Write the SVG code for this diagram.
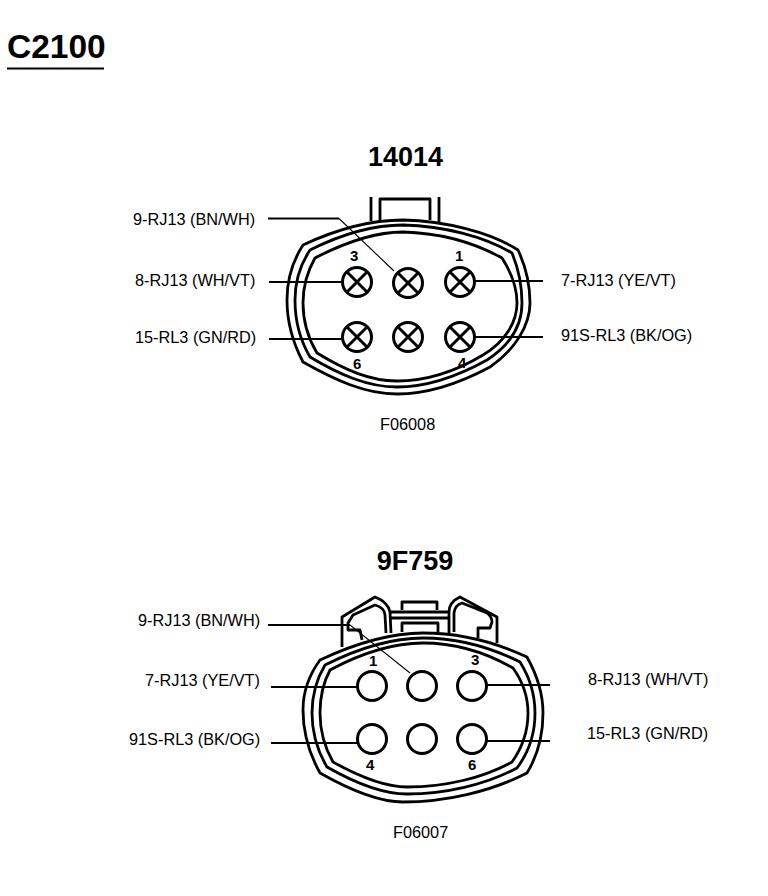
<svg xmlns="http://www.w3.org/2000/svg" width="768" height="896" viewBox="0 0 768 896">
<style>
text{font-family:"Liberation Sans",Arial,sans-serif;fill:#000}
.l{font-size:16.300px}
.f{font-size:16.300px}
.n{font-size:15px;font-weight:bold}
.h{font-size:27px;font-weight:bold;text-anchor:middle}
.s{fill:none;stroke:#000;stroke-width:2.800;stroke-linejoin:round}
.p{fill:#fff;stroke:#000;stroke-width:3}
.w{fill:none;stroke:#000;stroke-width:1.800}
.t{fill:none;stroke:#000;stroke-width:1.100}
</style>
<defs>
<g id="pinx"><circle class="p" r="14.5"/><path d="M-10-10L10 10M-10 10L10-10" stroke="#000" stroke-width="3"/></g>
<circle id="pin" class="p" r="14.5"/>
</defs>
<rect width="768" height="896" fill="#fff"/>
<g id="title">
<text x="7" y="58" font-size="33.500" font-weight="bold">C2100</text>
<path d="M7 68.500H104" stroke="#000" stroke-width="2"/>
</g>
<g id="connector-14014">
<text class="h" x="405.500" y="166">14014</text>
<path class="s" d="M371 197V221M380 220V199H430V220M439 197V222"/>
<path class="s" d="M403 220C370 220 335 230 303 245C292 262 287 280 287 300C287 322 293 343 303 362C335 380 365 394 397 394C430 394 462 382 490 367C515 350 530 325 530 303C530 283 526 267 518 250C490 232 445 221 403 220Z"/>
<path class="s" d="M403 225C370 225 338 236 310 250C300 265 295 282 295 300C295 322 300 340 310 357C340 375 368 387 397 387C430 387 460 375 487 360C510 345 522 325 522 303C522 285 519 270 512 253C485 237 445 226 403 225Z"/>
<path class="s" d="M403 232C372 232 342 244 315 258C307 272 303 288 303 303C303 322 308 338 317 353C345 370 370 381 397 381C428 381 458 370 483 355C505 342 517 322 517 303C517 287 511 272 502 258C475 243 440 233 403 232Z"/>
<text class="n" x="350" y="261">3</text>
<text class="n" x="455" y="261">1</text>
<text class="n" x="353" y="369">6</text>
<text class="n" x="458" y="368">4</text>
<use id="p14014-3" href="#pinx" x="357" y="282"/>
<use id="p14014-2" href="#pinx" x="408" y="283"/>
<use id="p14014-1" href="#pinx" x="460" y="282"/>
<use id="p14014-6" href="#pinx" x="357" y="337"/>
<use id="p14014-5" href="#pinx" x="408" y="337"/>
<use id="p14014-4" href="#pinx" x="460" y="337"/>
<text class="l" x="133" y="225">9-RJ13 (BN/WH)</text>
<text class="l" x="135" y="286">8-RJ13 (WH/VT)</text>
<text class="l" x="135" y="343">15-RL3 (GN/RD)</text>
<text class="l" x="561" y="286">7-RJ13 (YE/VT)</text>
<text class="l" x="561" y="341">91S-RL3 (BK/OG)</text>
<text class="f" x="380" y="430">F06008</text>
</g>
<g id="connector-9F759">
<text class="h" x="415" y="570">9F759</text>
<path class="s" d="M342 647V617L375 597Q388 602 390 612L391 633M362 640L360 630H348V623L353 615L375 605Q385 608 385 615L386 633"/>
<path class="s" d="M449 633V612Q449 602 460 597L497 617V643M454 632V613Q455 605 462 603L487 613Q492 617 492 622L490 628H478V638"/>
<path class="s" d="M391 612H449M391 618H449M402 610V602H437V610M402 632V623H438V632"/>
<path class="s" d="M423 633C388 633 352 645 320 660C309 675 303 692 303 710C303 733 310 755 320 773C350 790 378 802 403 802C445 802 490 792 527 773C538 755 543 733 543 713C543 692 537 675 527 657C495 642 460 633 423 633Z"/>
<path class="s" d="M423 638C390 638 355 650 325 665C316 680 312 696 312 713C312 733 318 752 327 767C355 783 382 794 407 794C445 794 485 785 517 768C529 752 535 733 535 713C535 695 530 678 520 662C490 647 460 638 423 638Z"/>
<path class="s" d="M423 643C392 643 358 655 330 670C323 683 320 698 320 713C320 732 325 748 333 762C360 777 385 787 407 787C445 787 483 778 512 762C522 748 528 732 528 713C528 697 523 682 513 668C485 652 457 643 423 643Z"/>
<text class="n" x="369" y="666">1</text>
<text class="n" x="471" y="665">3</text>
<text class="n" x="366" y="770">4</text>
<text class="n" x="468" y="770">6</text>
<use id="p9F759-1" href="#pin" x="372" y="686"/>
<use id="p9F759-2" href="#pin" x="422" y="686"/>
<use id="p9F759-3" href="#pin" x="472" y="686"/>
<use id="p9F759-4" href="#pin" x="372" y="739"/>
<use id="p9F759-5" href="#pin" x="422" y="739"/>
<use id="p9F759-6" href="#pin" x="472" y="739"/>
<text class="l" x="138" y="626">9-RJ13 (BN/WH)</text>
<text class="l" x="145" y="686">7-RJ13 (YE/VT)</text>
<text class="l" x="129" y="745">91S-RL3 (BK/OG)</text>
<text class="l" x="588" y="685">8-RJ13 (WH/VT)</text>
<text class="l" x="587" y="739">15-RL3 (GN/RD)</text>
<text class="f" x="393" y="838">F06007</text>
</g>
<g id="connectors">
<path class="w" d="M268 218.500H339"/><path class="t" d="M339 218.500L394 271"/>
<path class="w" d="M269 282H343M269 339H343M474 281H543M474 337H543"/>
<path class="w" d="M268 625H350"/><path class="t" d="M350 625L410 673"/>
<path class="w" d="M271 687H358M271 743H358M486 685H550M486 741H550"/>
</g>
</svg>
